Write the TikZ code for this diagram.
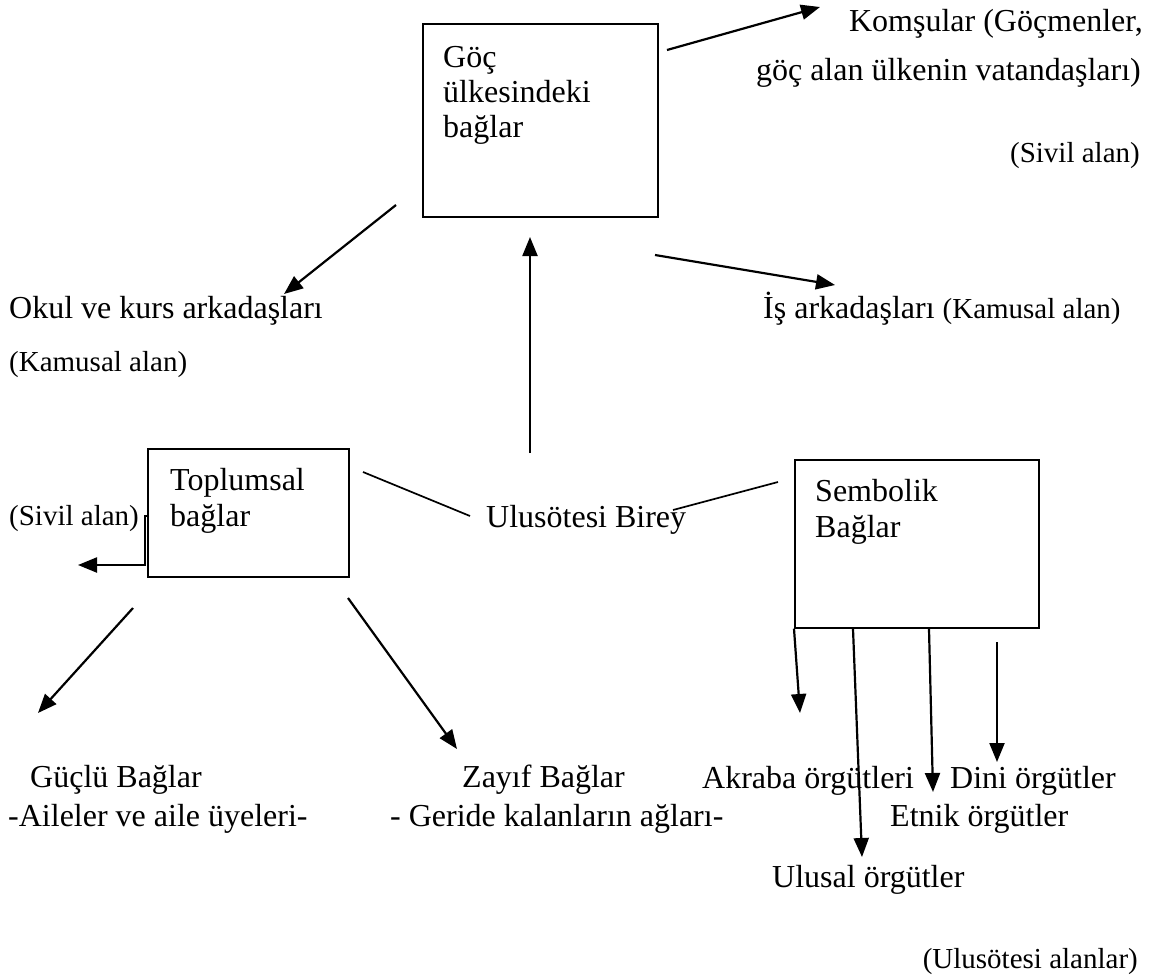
\documentclass[tikz,border=0pt]{standalone}
\usepackage{fontspec}
\setmainfont{Liberation Serif}
\usetikzlibrary{arrows.meta}
\begin{document}
\begin{tikzpicture}[x=1pt,y=-1pt,
  big/.style={font=\fontsize{32}{36.8}\selectfont, inner sep=0pt},
  small/.style={font=\fontsize{29}{33}\selectfont, inner sep=0pt},
  boxtext/.style={font=\fontsize{32}{36}\selectfont, inner sep=0pt, anchor=base west, align=left},
  box/.style={draw, line width=1.7pt, anchor=north west, inner sep=0pt},
  arr/.style={line width=2.2pt, -{Triangle[length=19pt,width=15pt]}},
  ln/.style={line width=1.7pt}]
\useasboundingbox[fill=white] (0,0) rectangle (1157,975);

% boxes (multi-line text: anchor at the baseline of the last line)
\node[box, minimum width=235pt, minimum height=193pt] (boxA) at (422,23) {};
\node[boxtext, font=\fontsize{32}{35}\selectfont] (tA) at (443,137) {Göç\\ülkesindeki\\bağlar};
\node[box, minimum width=201pt, minimum height=128pt] (boxB) at (147,448) {};
\node[boxtext] (tB) at (170,526) {Toplumsal\\bağlar};
\node[box, minimum width=244pt, minimum height=168pt] (boxC) at (794,459) {};
\node[boxtext] (tC) at (815,537) {Sembolik\\Bağlar};

% texts
\node[big, anchor=base east] (kom1) at (1143,31) {Komşular (Göçmenler,};
\node[big, anchor=base east] (kom2) at (1141,80) {göç alan ülkenin vatandaşları)};
\node[small, anchor=base east] (siv1) at (1140,162) {(Sivil alan)};
\node[big, anchor=base west] (okul) at (9,318) {Okul ve kurs arkadaşları};
\node[small, anchor=base west] (kam1) at (9,371) {(Kamusal alan)};
\node[anchor=base west, inner sep=0pt] (is) at (763,318) {{\fontsize{32}{36.8}\selectfont İş arkadaşları }{\fontsize{29}{33}\selectfont (Kamusal alan)}};
\node[big, anchor=base west] (birey) at (486,527) {Ulusötesi Birey};
\node[small, anchor=base west] (siv2) at (9,525) {(Sivil alan)};
\node[big, anchor=base west] (guclu1) at (30,787) {Güçlü Bağlar};
\node[big, anchor=base west] (guclu2) at (8,826) {-Aileler ve aile üyeleri-};
\node[big, anchor=base west] (zayif1) at (462,787) {Zayıf Bağlar};
\node[big, anchor=base west] (zayif2) at (390,826) {- Geride kalanların ağları-};
\node[big, anchor=base west] (akraba) at (702,788) {Akraba örgütleri};
\node[big, anchor=base west] (dini) at (950,788) {Dini örgütler};
\node[big, anchor=base west] (etnik) at (890,826) {Etnik örgütler};
\node[big, anchor=base west] (ulusal) at (772,887) {Ulusal örgütler};
\node[small, anchor=base east] (ulalan) at (1138,968) {(Ulusötesi alanlar)};

% connector end points
\coordinate (a1s) at (667,50);   \coordinate (a1e) at (820,7);
\coordinate (a2s) at (396,205);  \coordinate (a2e) at (284,294);
\coordinate (a3s) at (530,453);  \coordinate (a3e) at (530,237);
\coordinate (a4s) at (655,255);  \coordinate (a4e) at (835,285);
\coordinate (l1s) at (363,472);  \coordinate (l1e) at (470,516);
\coordinate (l2s) at (673,510);  \coordinate (l2e) at (778,482);
\coordinate (e1) at (149,516);   \coordinate (e2) at (145,516);
\coordinate (e3) at (145,565);   \coordinate (e4) at (78,565);
\coordinate (a5s) at (133,608);  \coordinate (a5e) at (38,713);
\coordinate (a6s) at (348,598);  \coordinate (a6e) at (457,749);
\coordinate (a7e) at (800,713);
\coordinate (a8s) at (853,629);  \coordinate (a8e) at (862,857);
\coordinate (a9s) at (929,629);  \coordinate (a9e) at (933,792);
\coordinate (a10s) at (997,642); \coordinate (a10e) at (997,762);

\draw[arr] (a1s) -- (a1e);
\draw[arr] (a2s) -- (a2e);
\draw[arr] (a3s) -- (a3e);
\draw[arr] (a4s) -- (a4e);
\draw[ln] (l1s) -- (l1e);
\draw[ln] (l2s) -- (l2e);
\draw[arr] (e1) -- (e2) -- (e3) -- (e4);
\draw[arr] (a5s) -- (a5e);
\draw[arr] (a6s) -- (a6e);
\draw[arr] (boxC.south west) -- (a7e);
\draw[arr] (a8s) -- (a8e);
\draw[arr] (a9s) -- (a9e);
\draw[arr] (a10s) -- (a10e);
\end{tikzpicture}
\end{document}
